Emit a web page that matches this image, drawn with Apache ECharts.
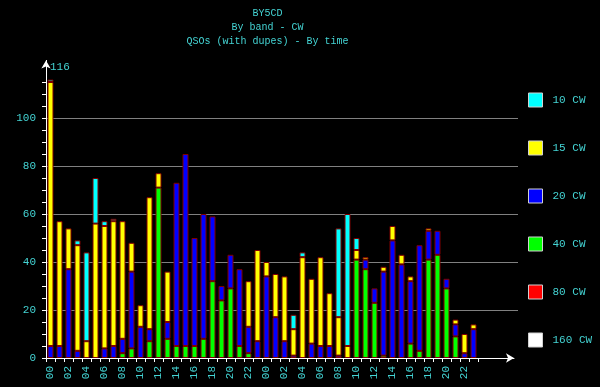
<!DOCTYPE html>
<html><head><meta charset="utf-8">
<script src="https://cdn.jsdelivr.net/npm/echarts@6/dist/echarts.min.js"></script>
<style>html,body{margin:0;padding:0;background:#000}#c{width:600px;height:387px}</style>
</head><body><div id="c"></div>
<script>
const hours = ['00','01','02','03','04','05','06','07','08','09','10','11','12','13','14','15','16','17','18','19','20','21','22','23',
               '00','01','02','03','04','05','06','07','08','09','10','11','12','13','14','15','16','17','18','19','20','21','22','23'];
const band160 = [0,0,0,0,0,0,0,0,0,0,0,0,0,0,0,0,0,0,0,0,0,0,0,0, 0,0,0,0,0,0,0,0,0,0,0,0,0,0,0,0,0,0,0,0,0,0,0,0];
const band80  = [0,0,0,0,0,0,0,0,0,0,0,0,0,0,0,0,0,0,0,0,0,0,0,0, 0,0,0,0,0,0,0,0,0,0,0,0,0,0,0,0,0,0,0,0,0,0,0,0];
const band40  = [0,0,0,0,0,0,0,0,2,4,0,7,71,8,5,5,5,8,32,24,29,5,2,0, 0,0,0,0,0,0,0,0,0,0,41,37,23,1,0,0,6,3,41,43,29,9,0,0];
const band20  = [5,5,37,3,0,0,4,5,6,32,13,5,0,7,68,80,45,52,27,6,14,32,11,7, 34,17,7,1,0,6,5,5,1,0,0,4,6,35,49,39,26,44,12,10,4,5,2,12];
const band15  = [110,52,17,44,7,56,51,52,49,12,9,55,6,21,0,0,0,0,0,0,0,0,19,38, 6,18,27,11,42,27,37,22,16,5,4,1,0,2,6,4,2,0,1,0,0,2,8,2];
const band10  = [1,0,0,2,37,19,2,1,0,0,0,0,0,0,0,0,0,0,0,0,0,0,0,0, 0,0,0,6,2,0,0,0,37,55,5,0,0,0,0,0,0,0,0,0,0,0,0,0];
const legendNames = ['10 CW','15 CW','20 CW','40 CW','80 CW','160 CW'];
const yTickLabels = [0,20,40,60,80,100];

const TXT = '#44d4d4';
const FONT = 'Liberation Mono';
const totals = hours.map((_, i) => band160[i] + band80[i] + band40[i] + band20[i] + band15[i] + band10[i]);
const maxLabel = String(Math.max(...totals));

const stackDefs = [
  ['160 CW', band160, '#ffffff'],
  ['80 CW', band80, '#ff0000'],
  ['40 CW', band40, '#00ff00'],
  ['20 CW', band20, '#0000ff'],
  ['15 CW', band15, '#ffff00'],
  ['10 CW', band10, '#00ffff']
];

const chart = echarts.init(document.getElementById('c'), null, {renderer: 'canvas'});
chart.setOption({
  backgroundColor: '#000',
  animation: false,
  title: {
    text: 'BY5CD\nBy band - CW\nQSOs (with dupes) - By time',
    left: 267.5, top: 6, textAlign: 'center', padding: 0,
    textStyle: {color: TXT, fontFamily: FONT, fontSize: 10, fontWeight: 'normal', lineHeight: 14}
  },
  legend: {
    orient: 'vertical', left: 528, top: 92.5, padding: 0,
    itemWidth: 14, itemHeight: 14, itemGap: 33, icon: 'rect', selectedMode: false,
    data: legendNames,
    itemStyle: {borderColor: '#d0d0d0', borderWidth: 1},
    textStyle: {color: TXT, fontFamily: FONT, fontSize: 11, padding: [0, 0, 0, 5]}
  },
  grid: [
    {left: 46, top: 60.4, width: 432, height: 297.6, outerBoundsMode: 'none'},
    {left: 46, top: 60.4, width: 468, height: 297.6, outerBoundsMode: 'none'},
    {left: 46, top: 82, width: 472, height: 276, outerBoundsMode: 'none'},
    {left: 46, top: 118, width: 472, height: 240, outerBoundsMode: 'none'}
  ],
  xAxis: [
    {type: 'category', gridIndex: 0, data: hours,
     axisLine: {show: false},
     axisTick: {show: true, interval: 0, length: 4, lineStyle: {color: '#fff'}},
     axisLabel: {interval: 1, rotate: 90, margin: 8, color: TXT, fontFamily: FONT, fontSize: 11},
     splitLine: {show: false}},
    {type: 'value', gridIndex: 1, min: 0, max: 1,
     axisLine: {show: true, lineStyle: {color: '#fff', width: 1}, symbol: ['none', 'arrow'], symbolSize: [7, 8]},
     axisTick: {show: false}, axisLabel: {show: false}, splitLine: {show: false}},
    {type: 'value', gridIndex: 2, min: 0, max: 1, show: false},
    {type: 'value', gridIndex: 3, min: 0, max: 1, show: false}
  ],
  yAxis: [
    {type: 'value', gridIndex: 0, min: 0, max: 124, show: false},
    {type: 'value', gridIndex: 1, min: 0, max: 124,
     axisLine: {show: true, lineStyle: {color: '#fff', width: 1}, symbol: ['none', 'arrow'], symbolSize: [7, 8]},
     axisTick: {show: false}, axisLabel: {show: false}, splitLine: {show: false},
     name: maxLabel, nameLocation: 'end', nameGap: -7,
     nameTextStyle: {color: TXT, fontFamily: FONT, fontSize: 11, align: 'left', verticalAlign: 'middle', padding: [0, 0, 0, 4]}},
    {type: 'value', gridIndex: 2, min: 0, max: 115, interval: 5,
     axisLine: {show: false},
     axisTick: {show: true, length: 4, lineStyle: {color: '#fff'}},
     axisLabel: {show: false}, splitLine: {show: false}},
    {type: 'value', gridIndex: 3, min: 0, max: 100, interval: 20,
     axisLine: {show: false}, axisTick: {show: false},
     axisLabel: {margin: 10, color: TXT, fontFamily: FONT, fontSize: 11,
                 formatter: v => yTickLabels.includes(v) ? String(v) : ''},
     splitLine: {show: true, showMinLine: false, lineStyle: {color: '#808080', width: 1}}}
  ],
  series: stackDefs.map(([name, arr, color]) => ({
    name, type: 'bar', stack: 'total', xAxisIndex: 0, yAxisIndex: 0,
    barWidth: 6,
    data: arr.map(v => v === 0 ? '-' : v),
    itemStyle: {color, borderColor: '#800000', borderWidth: 1},
    emphasis: {disabled: true}
  }))
});
</script>
</body></html>
